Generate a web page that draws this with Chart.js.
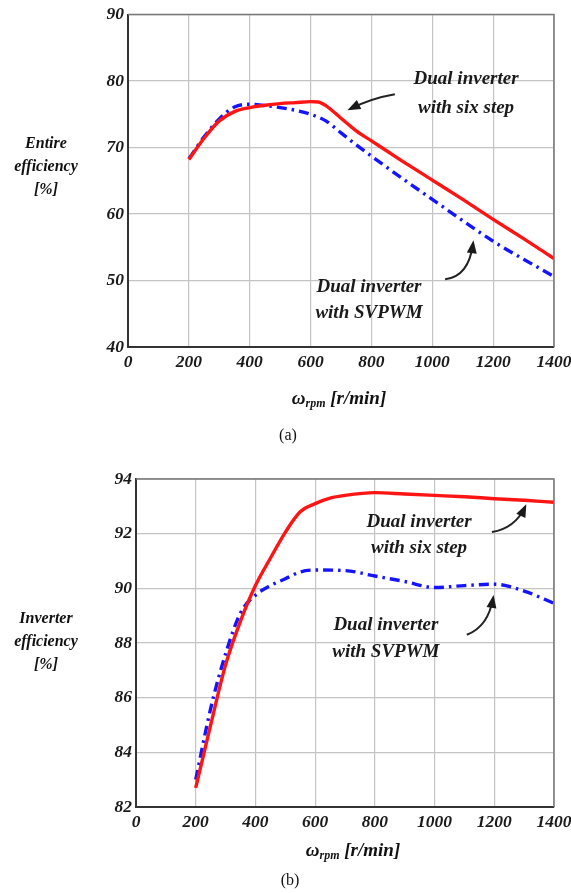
<!DOCTYPE html>
<html>
<head>
<meta charset="utf-8">
<script src="https://cdn.jsdelivr.net/npm/chart.js@4.4.1/dist/chart.umd.min.js"></script>
<style>
  body { margin: 0; background: #fff; width: 571px; height: 893px; position: relative; overflow: hidden; }
  canvas { position: absolute; left: 0; }
  .ytitle, .xtitle, .cap { position: absolute; font-family: "Liberation Serif", "DejaVu Serif", serif; color: #111; }
  .ytitle { left: 0; width: 92px; text-align: center; font-weight: bold; font-style: italic; font-size: 16px; line-height: 23px; }
  .xtitle { width: 200px; text-align: center; font-weight: bold; font-style: italic; font-size: 19px; line-height: 22px; }
  .xtitle sub { font-size: 12px; vertical-align: -3px; }
  .cap { width: 60px; text-align: center; font-size: 16px; line-height: 20px; }
</style>
</head>
<body>
<canvas id="chartA" width="571" height="400" style="top:0"></canvas>
<canvas id="chartB" width="571" height="410" style="top:455px"></canvas>

<div class="ytitle" style="top:131px">Entire<br>efficiency<br>[%]</div>
<div class="xtitle" style="left:239px; top:387px">ω<sub>rpm</sub> [r/min]</div>
<div class="cap" style="left:258px; top:425px">(a)</div>

<div class="ytitle" style="top:606px">Inverter<br>efficiency<br>[%]</div>
<div class="xtitle" style="left:253px; top:839px">ω<sub>rpm</sub> [r/min]</div>
<div class="cap" style="left:260px; top:870px">(b)</div>

<script>
// (a) entire efficiency
const rpmSixA = [200, 250, 300, 350, 400, 450, 500, 550, 600, 625, 650, 700, 750, 800, 900, 1000, 1100, 1200, 1300, 1400];
const sixStepA = [68.2, 71.4, 74.0, 75.4, 76.0, 76.35, 76.6, 76.75, 76.9, 76.85, 76.3, 74.4, 72.5, 71.0, 68.0, 65.1, 62.2, 59.2, 56.3, 53.3];
const rpmSvA = [200, 250, 300, 350, 400, 450, 500, 550, 600, 650, 700, 750, 800, 900, 1000, 1100, 1200, 1300, 1400];
const svpwmA = [68.3, 71.6, 74.3, 76.1, 76.5, 76.3, 76.0, 75.6, 75.0, 74.0, 72.2, 70.4, 68.7, 65.4, 62.2, 59.0, 55.9, 53.2, 50.6];

// (b) inverter efficiency
const rpmSixB = [200, 250, 300, 350, 400, 450, 500, 550, 600, 650, 700, 800, 900, 1000, 1100, 1200, 1300, 1400];
const sixStepB = [82.7, 85.0, 87.2, 88.8, 90.1, 91.1, 92.05, 92.8, 93.1, 93.3, 93.4, 93.5, 93.45, 93.4, 93.35, 93.28, 93.22, 93.15];
const rpmSvB = [200, 250, 300, 350, 400, 450, 500, 550, 600, 700, 800, 900, 1000, 1100, 1200, 1300, 1400];
const svpwmB = [83.0, 85.6, 87.6, 89.1, 89.75, 90.1, 90.35, 90.6, 90.67, 90.65, 90.45, 90.25, 90.03, 90.1, 90.15, 89.9, 89.45];

const xTicks = [0, 200, 400, 600, 800, 1000, 1200, 1400];
const yTicksA = [40, 50, 60, 70, 80, 90];
const yTicksB = [82, 84, 86, 88, 90, 92, 94];

const serif = '"Liberation Serif", "DejaVu Serif", serif';
const tickFont = { family: serif, size: 17.5, weight: 'bold', style: 'italic' };

function toPoints(xs, ys) {
    return xs.map((x, i) => ({ x: x, y: ys[i] }));
}

// notes: text blocks and arrows, positioned in data units
function notesPlugin(labels, arrows) {
    return {
        id: 'notes',
        afterDraw(chart) {
            const ctx = chart.ctx;
            const sx = chart.scales.x, sy = chart.scales.y;
            ctx.save();
            // frame around the plot
            const a = chart.chartArea;
            ctx.strokeStyle = '#777';
            ctx.lineWidth = 1.5;
            ctx.beginPath();
            ctx.moveTo(a.left, a.top);
            ctx.lineTo(a.right, a.top);
            ctx.lineTo(a.right, a.bottom);
            ctx.stroke();

            ctx.fillStyle = '#1a1a1a';
            ctx.font = 'italic bold 19px ' + serif;
            ctx.textAlign = 'center';
            ctx.textBaseline = 'middle';
            labels.forEach(l => {
                ctx.fillText(l.text, sx.getPixelForValue(l.x), sy.getPixelForValue(l.y));
            });

            ctx.strokeStyle = '#222';
            ctx.lineWidth = 2;
            arrows.forEach(ar => {
                const x0 = sx.getPixelForValue(ar.from[0]), y0 = sy.getPixelForValue(ar.from[1]);
                const x1 = sx.getPixelForValue(ar.to[0]), y1 = sy.getPixelForValue(ar.to[1]);
                const cx = sx.getPixelForValue(ar.ctrl[0]), cy = sy.getPixelForValue(ar.ctrl[1]);
                ctx.beginPath();
                ctx.moveTo(x0, y0);
                ctx.quadraticCurveTo(cx, cy, x1, y1);
                ctx.stroke();
                const ang = Math.atan2(y1 - cy, x1 - cx);
                ctx.beginPath();
                ctx.moveTo(x1 + 3 * Math.cos(ang), y1 + 3 * Math.sin(ang));
                ctx.lineTo(x1 - 10 * Math.cos(ang) + 5 * Math.sin(ang), y1 - 10 * Math.sin(ang) - 5 * Math.cos(ang));
                ctx.lineTo(x1 - 10 * Math.cos(ang) - 5 * Math.sin(ang), y1 - 10 * Math.sin(ang) + 5 * Math.cos(ang));
                ctx.closePath();
                ctx.fill();
            });
            ctx.restore();
        }
    };
}

function makeChart(id, six, sv, yMin, yMax, yTicks, padding, labels, arrows) {
    return new Chart(document.getElementById(id), {
        type: 'line',
        data: {
            datasets: [{
                label: 'Dual inverter with six step',
                data: six,
                borderColor: '#ff1414',
                borderWidth: 3.4,
                pointRadius: 0,
                fill: false,
                cubicInterpolationMode: 'monotone'
            }, {
                label: 'Dual inverter with SVPWM',
                data: sv,
                borderColor: '#1414ff',
                borderWidth: 3.4,
                borderDash: [10, 5, 2.5, 5],
                pointRadius: 0,
                fill: false,
                cubicInterpolationMode: 'monotone'
            }]
        },
        options: {
            responsive: false,
            animation: false,
            devicePixelRatio: 1,
            layout: { padding: padding },
            plugins: { legend: { display: false }, tooltip: { enabled: false } },
            scales: {
                x: {
                    type: 'linear',
                    min: 0,
                    max: 1400,
                    afterBuildTicks: s => { s.ticks = xTicks.map(v => ({ value: v })); },
                    afterFit: s => { s.height = 30; s.paddingLeft = 0; s.paddingRight = 0; },
                    ticks: { font: tickFont, color: '#1a1a1a', padding: 5, callback: v => String(v) },
                    grid: { color: '#c4c4c4', lineWidth: 1.2, tickLength: 0 },
                    border: { color: '#333', width: 2 }
                },
                y: {
                    min: yMin,
                    max: yMax,
                    afterBuildTicks: s => { s.ticks = yTicks.map(v => ({ value: v })); },
                    afterFit: s => { s.width = 40; },
                    ticks: { font: tickFont, color: '#1a1a1a', padding: 4, callback: v => String(v) },
                    grid: { color: '#c4c4c4', lineWidth: 1.2, tickLength: 0 },
                    border: { color: '#333', width: 2 }
                }
            }
        },
        plugins: [notesPlugin(labels, arrows)]
    });
}

makeChart('chartA', toPoints(rpmSixA, sixStepA), toPoints(rpmSvA, svpwmA), 40, 90, yTicksA,
    { left: 88, right: 17, top: 13, bottom: 23 },
    [
        { text: 'Dual inverter', x: 1111, y: 80.3 },
        { text: 'with six step', x: 1111, y: 75.9 },
        { text: 'Dual inverter', x: 792, y: 49.0 },
        { text: 'with SVPWM', x: 792, y: 45.1 }
    ],
    [
        { from: [877, 78.0], ctrl: [800, 77.4], to: [730, 75.8] },
        { from: [1042, 50.2], ctrl: [1120, 50.6], to: [1134, 55.6] }
    ]);

makeChart('chartB', toPoints(rpmSixB, sixStepB), toPoints(rpmSvB, svpwmB), 82, 94, yTicksB,
    { left: 96, right: 17, top: 24, bottom: 28 },
    [
        { text: 'Dual inverter', x: 948, y: 92.43 },
        { text: 'with six step', x: 948, y: 91.48 },
        { text: 'Dual inverter', x: 837, y: 88.66 },
        { text: 'with SVPWM', x: 837, y: 87.67 }
    ],
    [
        { from: [1192, 92.06], ctrl: [1270, 92.2], to: [1303, 92.98] },
        { from: [1108, 88.3], ctrl: [1180, 88.6], to: [1196, 89.65] }
    ]);
</script>
</body>
</html>
